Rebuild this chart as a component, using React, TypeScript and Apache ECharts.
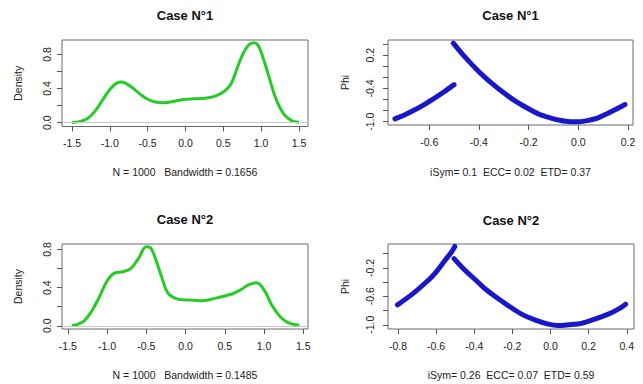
import React, { useEffect, useRef } from "react";
import * as echarts from "echarts";

// ---------- data ----------
const titles = ["Case N°1", "Case N°1", "Case N°2", "Case N°2"];
const subtitles = [
  "N = 1000   Bandwidth = 0.1656",
  "iSym= 0.1  ECC= 0.02  ETD= 0.37",
  "N = 1000   Bandwidth = 0.1485",
  "iSym= 0.26  ECC= 0.07  ETD= 0.59",
];

// Case 1 density
const dens1X = [-1.5, -1.4, -1.3, -1.2, -1.1, -1.0, -0.9, -0.85, -0.8, -0.7, -0.6, -0.5, -0.4, -0.3, -0.2, -0.1, 0, 0.1, 0.2, 0.3, 0.4, 0.5, 0.6, 0.7, 0.8, 0.9, 0.95, 1.0, 1.1, 1.2, 1.3, 1.4, 1.5];
const dens1Y = [0.003, 0.012, 0.045, 0.13, 0.26, 0.39, 0.47, 0.478, 0.467, 0.41, 0.335, 0.275, 0.243, 0.234, 0.243, 0.26, 0.274, 0.28, 0.283, 0.292, 0.314, 0.36, 0.45, 0.68, 0.87, 0.937, 0.92, 0.83, 0.55, 0.27, 0.1, 0.025, 0.004];

// Case 2 density
const dens2X = [-1.45, -1.4, -1.3, -1.2, -1.1, -1.0, -0.9, -0.8, -0.7, -0.6, -0.5, -0.45, -0.4, -0.3, -0.25, -0.2, -0.1, 0, 0.1, 0.2, 0.3, 0.4, 0.5, 0.6, 0.7, 0.8, 0.9, 1.0, 1.1, 1.2, 1.3, 1.4, 1.45];
const dens2Y = [0.003, 0.01, 0.045, 0.15, 0.3, 0.47, 0.556, 0.567, 0.6, 0.706, 0.83, 0.82, 0.74, 0.5, 0.38, 0.32, 0.28, 0.271, 0.268, 0.262, 0.272, 0.293, 0.313, 0.336, 0.376, 0.428, 0.452, 0.376, 0.215, 0.1, 0.035, 0.01, 0.003];

// Case 1 Phi scatter (two branches)
const phi1LeftX = [-0.738, -0.70, -0.66, -0.62, -0.58, -0.54, -0.50];
const phi1LeftY = [-0.95, -0.88, -0.79, -0.69, -0.58, -0.46, -0.33];
const phi1RightX = [-0.503, -0.47, -0.44, -0.41, -0.38, -0.35, -0.32, -0.275, -0.235, -0.195, -0.155, -0.114, -0.075, -0.034, 0.005, 0.047, 0.08, 0.114, 0.15, 0.188];
const phi1RightY = [0.42, 0.24, 0.09, -0.05, -0.18, -0.3, -0.41, -0.56, -0.68, -0.78, -0.87, -0.93, -0.975, -1.0, -1.0, -0.97, -0.93, -0.86, -0.78, -0.69];

// Case 2 Phi scatter (two branches)
const phi2LeftX = [-0.803, -0.73, -0.66, -0.607, -0.555, -0.52, -0.502];
const phi2LeftY = [-0.72, -0.58, -0.42, -0.28, -0.1, 0.02, 0.1];
const phi2RightX = [-0.506, -0.45, -0.397, -0.345, -0.292, -0.222, -0.152, -0.082, -0.012, 0.04, 0.093, 0.163, 0.233, 0.303, 0.356, 0.394];
const phi2RightY = [-0.07, -0.23, -0.36, -0.49, -0.6, -0.73, -0.85, -0.93, -0.99, -1.01, -1.0, -0.98, -0.92, -0.85, -0.78, -0.71];

// Tick values
const densXTicks = [-1.5, -1.0, -0.5, 0.0, 0.5, 1.0, 1.5];
const densYTicks = [0, 0.2, 0.4, 0.6, 0.8];
const densYLabels = [0, 0.4, 0.8];
const phi1XTicks = [-0.6, -0.4, -0.2, 0.0, 0.2];
const phi1YTicks = [-1.0, -0.8, -0.6, -0.4, -0.2, 0.0, 0.2, 0.4];
const phi1YLabels = [-1.0, -0.4, 0.2];
const phi2XTicks = [-0.8, -0.6, -0.4, -0.2, 0.0, 0.2, 0.4];
const phi2YTicks = [-1.0, -0.8, -0.6, -0.4, -0.2, 0.0];
const phi2YLabels = [-1.0, -0.6, -0.2];

const zip = (xs: number[], ys: number[]) => xs.map((x, i) => [x, ys[i]]);

const FONT = "'Liberation Sans', Arial, Helvetica, sans-serif";
const TXT = "#222";
const GREEN = "#25cc25";
const BLUE = "#1818c8";

const fmt = (v: number) => {
  const r = Math.round(v * 10) / 10;
  return (Object.is(r, -0) ? 0 : r).toFixed(1);
};

function xAx(gridIndex: number, min: number, max: number, ticks: number[]) {
  return {
    type: "value",
    gridIndex,
    min,
    max,
    axisLine: { show: false, onZero: false },
    splitLine: { show: false },
    axisTick: { show: true, inside: false, length: 5, customValues: ticks, lineStyle: { color: "#555", width: 1 } },
    axisLabel: {
      show: true,
      customValues: ticks,
      formatter: fmt,
      margin: 11,
      fontSize: 10.5,
      fontFamily: FONT,
      color: TXT,
      showMinLabel: true,
      showMaxLabel: true,
    },
  };
}

function yAx(gridIndex: number, min: number, max: number, ticks: number[], labels: number[], name: string, nameGap: number, margin: number) {
  return {
    type: "value",
    gridIndex,
    min,
    max,
    name,
    nameLocation: "middle",
    nameGap,
    nameRotate: 90,
    nameTextStyle: { fontSize: 10.5, fontFamily: FONT, color: TXT },
    axisLine: { show: false, onZero: false },
    splitLine: { show: false },
    axisTick: { show: true, inside: false, length: 5, customValues: ticks, lineStyle: { color: "#555", width: 1 } },
    axisLabel: {
      show: true,
      customValues: labels,
      formatter: fmt,
      rotate: 90,
      margin,
      fontSize: 10.5,
      fontFamily: FONT,
      color: TXT,
    },
  };
}

export default function App() {
  const ref = useRef<HTMLDivElement>(null);

  useEffect(() => {
    document.body.style.margin = "0";
    if (!ref.current) return;
    const chart = echarts.init(ref.current, null, { renderer: "svg" });

    const gridBase = { show: true, borderColor: "#6a6a6a", borderWidth: 1, backgroundColor: "transparent", containLabel: false };
    const grids = [
      { ...gridBase, left: 62, top: 40, width: 246, height: 86.5 },
      { ...gridBase, left: 388, top: 40, width: 245, height: 85 },
      { ...gridBase, left: 62, top: 244, width: 246, height: 85 },
      { ...gridBase, left: 388, top: 244, width: 246, height: 85 },
    ];

    const titlePos = [
      [185, 15],
      [510.5, 15],
      [185, 219],
      [511, 220],
    ];
    const subPos = [
      [185, 172],
      [510.5, 172],
      [185, 375],
      [511, 375],
    ];

    const graphics: any[] = [];
    titles.forEach((t, i) => {
      graphics.push({
        type: "text",
        x: titlePos[i][0],
        y: titlePos[i][1],
        style: { text: t, fill: "#111", font: `bold 13px ${FONT}`, textAlign: "center", textVerticalAlign: "middle" },
      });
    });
    subtitles.forEach((t, i) => {
      graphics.push({
        type: "text",
        x: subPos[i][0],
        y: subPos[i][1],
        style: { text: t, fill: TXT, font: `10.5px ${FONT}`, textAlign: "center", textVerticalAlign: "middle" },
      });
    });

    const zeroLine = {
      silent: true,
      symbol: ["none", "none"],
      label: { show: false },
      lineStyle: { color: "#c8c8c8", width: 1, type: "solid" },
      data: [{ yAxis: 0 }],
    };

    const densSeries = (idx: number, data: number[][]) => ({
      type: "line",
      xAxisIndex: idx,
      yAxisIndex: idx,
      data,
      smooth: 0.4,
      showSymbol: false,
      symbol: "none",
      lineStyle: { color: GREEN, width: 3 },
      markLine: zeroLine,
      z: 3,
    });

    const phiSeries = (idx: number, data: number[][]) => ({
      type: "line",
      xAxisIndex: idx,
      yAxisIndex: idx,
      data,
      smooth: 0.3,
      showSymbol: false,
      symbol: "none",
      lineStyle: { color: BLUE, width: 5, cap: "round" },
    });

    chart.setOption({
      animation: false,
      backgroundColor: "#ffffff",
      textStyle: { fontFamily: FONT },
      grid: grids,
      xAxis: [
        xAx(0, -1.632, 1.62, densXTicks),
        xAx(1, -0.766, 0.2204, phi1XTicks),
        xAx(2, -1.575, 1.56, densXTicks),
        xAx(3, -0.8525, 0.438, phi2XTicks),
      ],
      yAxis: [
        yAx(0, -0.045, 0.97, densYTicks, densYLabels, "Density", 39, 10),
        yAx(1, -1.06, 0.477, phi1YTicks, phi1YLabels, "Phi", 38, 13),
        yAx(2, -0.034, 0.858, densYTicks, densYLabels, "Density", 39, 10),
        yAx(3, -1.059, 0.135, phi2YTicks, phi2YLabels, "Phi", 38, 13),
      ],
      series: [
        densSeries(0, zip(dens1X, dens1Y)),
        phiSeries(1, zip(phi1LeftX, phi1LeftY)),
        phiSeries(1, zip(phi1RightX, phi1RightY)),
        densSeries(2, zip(dens2X, dens2Y)),
        phiSeries(3, zip(phi2LeftX, phi2LeftY)),
        phiSeries(3, zip(phi2RightX, phi2RightY)),
      ],
      graphic: graphics,
    });

    return () => {
      chart.dispose();
    };
  }, []);

  return (
    <div
      ref={ref}
      style={{ position: "fixed", left: 0, top: 0, width: 643, height: 384, background: "#fff" }}
    />
  );
}
